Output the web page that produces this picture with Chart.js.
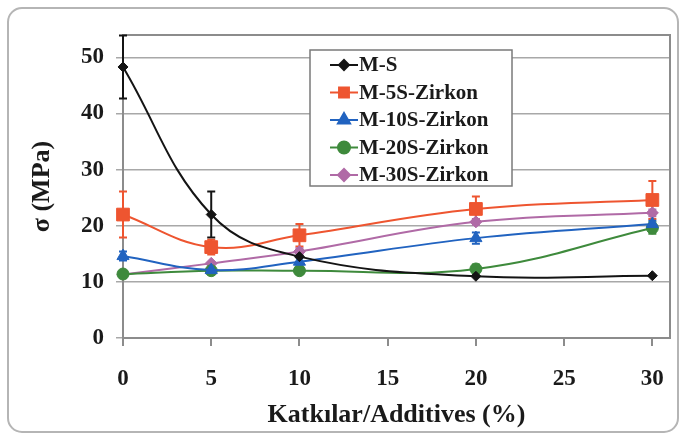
<!DOCTYPE html>
<html>
<head>
<meta charset="utf-8">
<script src="https://cdn.jsdelivr.net/npm/chart.js@4/dist/chart.umd.min.js"></script>
<style>
  html, body { margin: 0; padding: 0; background: #fff; }
  #wrap { width: 686px; height: 437px; position: relative; }
</style>
</head>
<body>
<div id="wrap"><canvas id="myChart" width="686" height="437"></canvas></div>
<script>
const xValues = [0, 5, 10, 20, 30]
const xTicks = [0, 5, 10, 15, 20, 25, 30]
const yTicks = [0, 10, 20, 30, 40, 50]

const seriesNames = ['M-S', 'M-5S-Zirkon', 'M-10S-Zirkon', 'M-20S-Zirkon', 'M-30S-Zirkon']
const msValues = [48.3, 22.0, 14.5, 11.0, 11.1]
const m5Values = [22.0, 16.2, 18.3, 23.0, 24.6]
const m10Values = [14.6, 12.1, 13.6, 17.8, 20.3]
const m20Values = [11.4, 12.0, 12.0, 12.3, 19.6]
const m30Values = [11.3, 13.3, 15.4, 20.7, 22.3]

const msErrors = [5.6, 4.1, 0, 0, 0]
const m5Errors = [4.1, 1.3, 2.0, 2.2, 3.4]
const m10Errors = [0.8, 0, 0.8, 1.0, 0.6]
const m20Errors = [0.5, 0, 0.6, 0.8, 1.0]
const m30Errors = [0.6, 0, 0.6, 0.5, 0.6]

const fontFamily = '"Liberation Serif", "Times New Roman", serif'

const makeSet = (label, values, errors, color, style, radius) => ({
    label: label,
    data: xValues.map((x, i) => ({ x: x, y: values[i] })),
    errors: errors,
    borderColor: color,
    backgroundColor: color,
    borderWidth: 2,
    pointStyle: style,
    pointRadius: radius,
    pointHoverRadius: radius,
    pointBorderWidth: 1,
    showLine: true,
    tension: 0.4,
    clip: false,
    fill: false
})

const datasets = [
    makeSet(seriesNames[0], msValues, msErrors, '#141414', 'rectRot', 5),
    makeSet(seriesNames[1], m5Values, m5Errors, '#ee5530', 'rect', 9),
    makeSet(seriesNames[2], m10Values, m10Errors, '#2163c0', 'triangle', 7),
    makeSet(seriesNames[3], m20Values, m20Errors, '#3e8a3c', 'circle', 6),
    makeSet(seriesNames[4], m30Values, m30Errors, '#b06aa6', 'rectRot', 6)
]

// outer rounded frame + plot border
const framePlugin = {
    id: 'frame',
    beforeDraw(chart) {
        const ctx = chart.ctx
        ctx.save()
        ctx.fillStyle = '#fff'
        ctx.fillRect(0, 0, chart.width, chart.height)
        ctx.strokeStyle = '#b5b5b5'
        ctx.lineWidth = 2
        ctx.beginPath()
        ctx.roundRect(8, 8, 670, 424, 14)
        ctx.stroke()
        ctx.restore()
    },
    beforeDatasetsDraw(chart) {
        const a = chart.chartArea
        const ctx = chart.ctx
        ctx.save()
        ctx.strokeStyle = '#8c8c8c'
        ctx.lineWidth = 2
        ctx.strokeRect(a.left, a.top, a.right - a.left, a.bottom - a.top)
        ctx.restore()
    }
}

// vertical error bars with caps
const errorBars = {
    id: 'errorBars',
    beforeDatasetsDraw(chart) {
        const ctx = chart.ctx
        const xs = chart.scales.x
        const ys = chart.scales.y
        ctx.save()
        chart.data.datasets.forEach(ds => {
            ds.data.forEach((p, i) => {
                const e = ds.errors[i]
                if (!e) return
                const px = xs.getPixelForValue(p.x)
                const top = ys.getPixelForValue(p.y + e)
                const bot = ys.getPixelForValue(p.y - e)
                ctx.strokeStyle = ds.borderColor
                ctx.lineWidth = 2
                ctx.beginPath()
                ctx.moveTo(px, top)
                ctx.lineTo(px, bot)
                ctx.moveTo(px - 4, top)
                ctx.lineTo(px + 4, top)
                ctx.moveTo(px - 4, bot)
                ctx.lineTo(px + 4, bot)
                ctx.stroke()
            })
        })
        ctx.restore()
    }
}

// boxed legend inside the plot
const boxLegend = {
    id: 'boxLegend',
    afterDraw(chart) {
        const ctx = chart.ctx
        const left = 310, top = 50, w = 202, h = 136
        ctx.save()
        ctx.fillStyle = '#fff'
        ctx.fillRect(left, top, w, h)
        ctx.strokeStyle = '#7a7a7a'
        ctx.lineWidth = 1.5
        ctx.strokeRect(left, top, w, h)
        ctx.font = 'bold 21px ' + fontFamily
        ctx.textBaseline = 'middle'
        chart.data.datasets.forEach((ds, i) => {
            const y = top + 15 + i * 27.5
            ctx.strokeStyle = ds.borderColor
            ctx.lineWidth = 2
            ctx.beginPath()
            ctx.moveTo(left + 20, y)
            ctx.lineTo(left + 48, y)
            ctx.stroke()
            ctx.fillStyle = ds.backgroundColor
            Chart.helpers.drawPoint(ctx, {
                pointStyle: ds.pointStyle,
                radius: Math.min(ds.pointRadius, 7),
                rotation: 0,
                borderWidth: 1
            }, left + 34, y)
            ctx.fillStyle = '#1a1a1a'
            ctx.fillText(ds.label, left + 49, y + 1)
        })
        ctx.restore()
    }
}

new Chart(document.getElementById('myChart'), {
    type: 'scatter',
    data: { datasets: datasets },
    options: {
        responsive: false,
        animation: false,
        events: [],
        layout: { padding: { top: 35, right: 16, left: 0, bottom: 0 } },
        plugins: {
            legend: { display: false },
            tooltip: { enabled: false }
        },
        scales: {
            x: {
                type: 'linear',
                min: 0,
                max: 31,
                afterFit: s => { s.height = 99 },
                afterBuildTicks: s => { s.ticks = xTicks.map(v => ({ value: v })) },
                grid: { drawOnChartArea: false, drawTicks: true, tickLength: 8, color: '#8c8c8c', lineWidth: 2 },
                border: { display: true, color: '#8c8c8c', width: 2 },
                ticks: { color: '#1a1a1a', padding: 19, font: { family: fontFamily, size: 23, weight: 'bold' } },
                title: {
                    display: true,
                    text: 'Katkılar/Additives (%)',
                    color: '#1a1a1a',
                    padding: { top: 4, bottom: 6 },
                    font: { family: fontFamily, size: 26, weight: 'bold' }
                }
            },
            y: {
                min: 0,
                max: 54,
                afterFit: s => { s.width = 123 },
                afterBuildTicks: s => { s.ticks = yTicks.map(v => ({ value: v })) },
                grid: { color: '#a8a8a8', lineWidth: 1.5, drawTicks: true, tickLength: 7 },
                border: { display: true, color: '#8c8c8c', width: 2 },
                ticks: { color: '#1a1a1a', padding: 12, font: { family: fontFamily, size: 23, weight: 'bold' } },
                title: {
                    display: true,
                    text: 'σ (MPa)',
                    color: '#1a1a1a',
                    padding: { top: 27, bottom: 0 },
                    font: { family: fontFamily, size: 26, weight: 'bold' }
                }
            }
        }
    },
    plugins: [framePlugin, errorBars, boxLegend]
})
</script>
</body>
</html>
